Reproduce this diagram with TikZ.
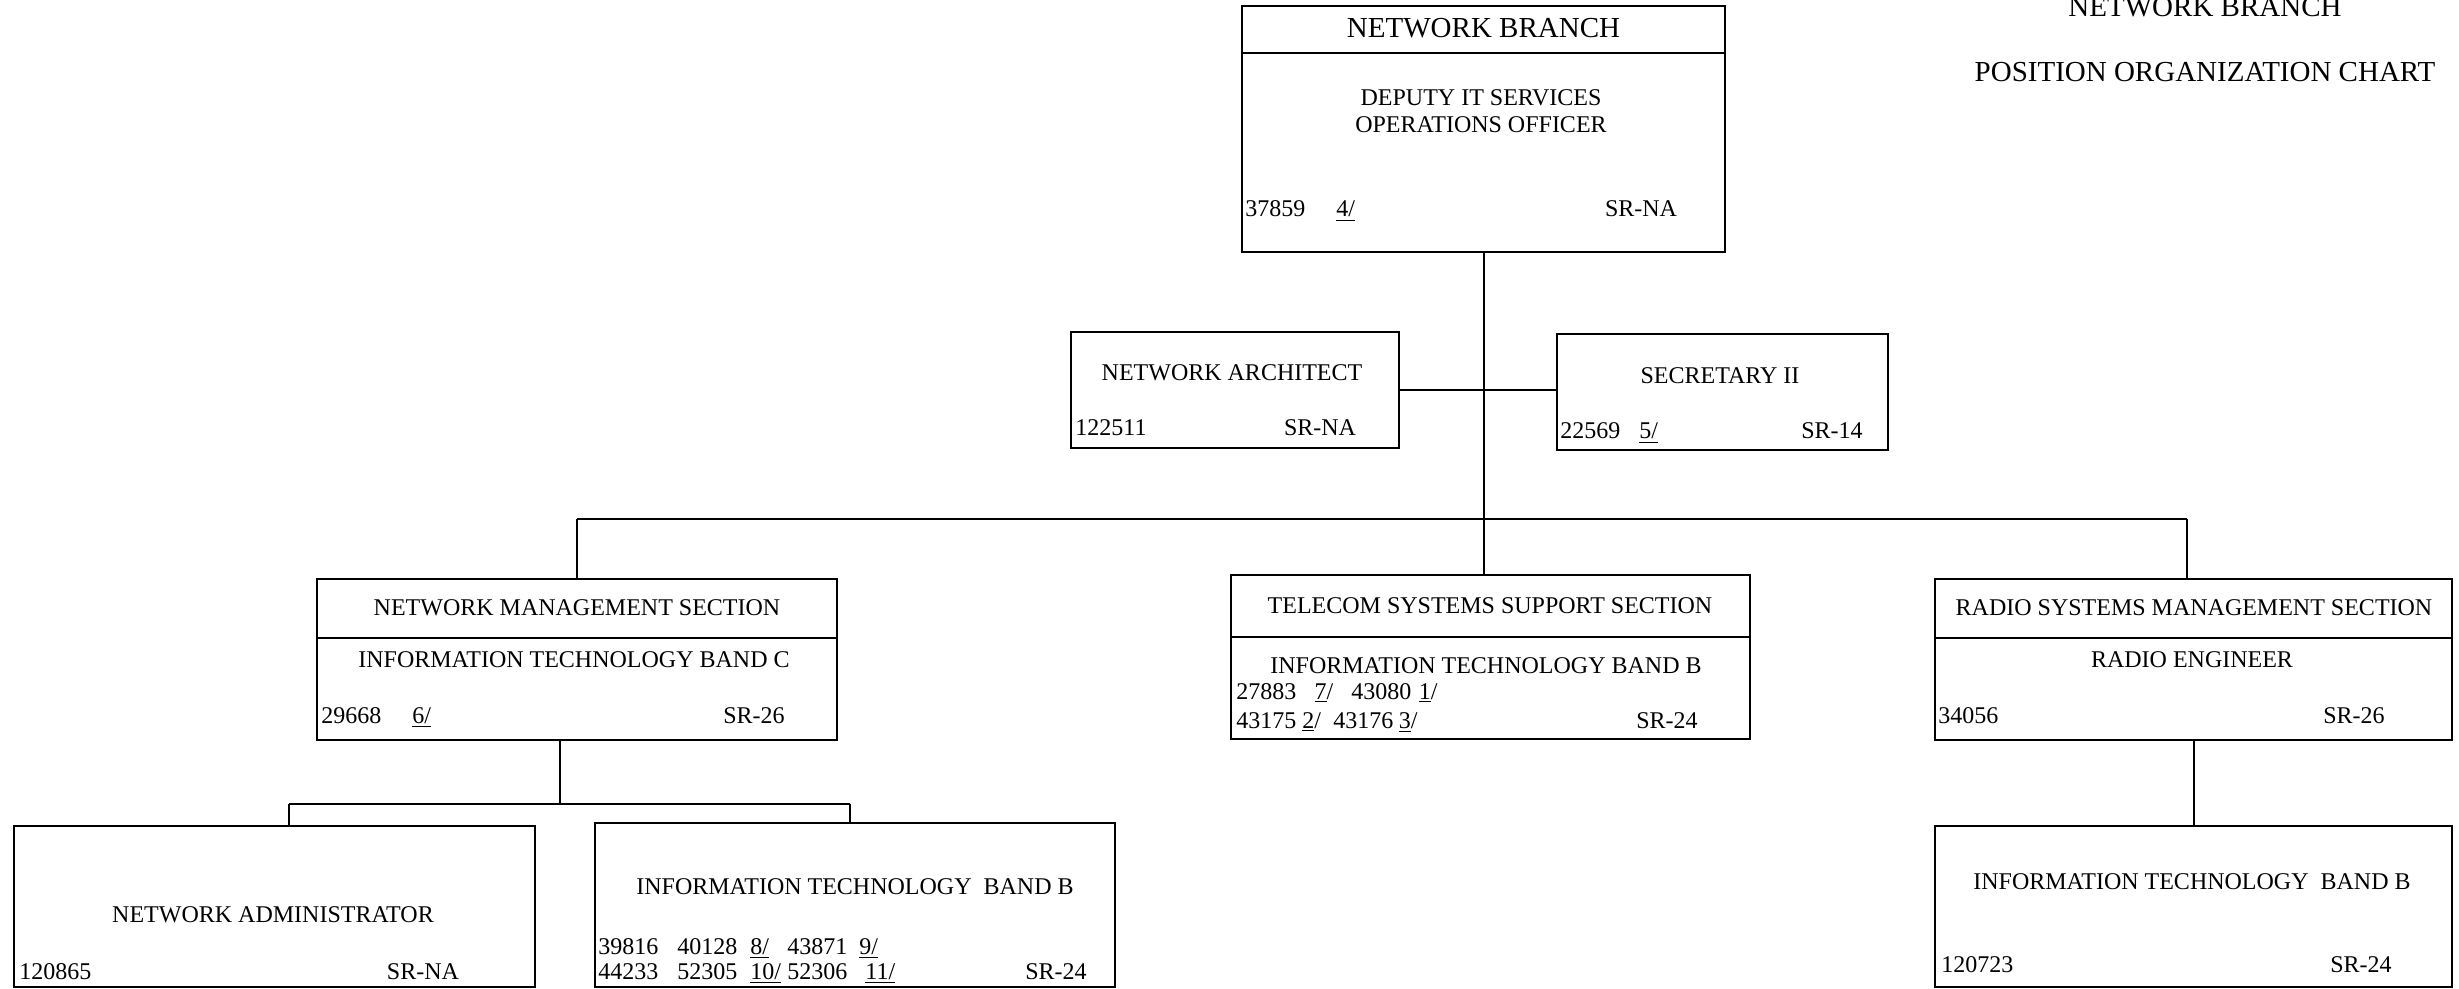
\documentclass[tikz,border=0pt]{standalone}
\usepackage{fontspec}
\setmainfont{Liberation Serif}
\begin{document}
\begin{tikzpicture}[x=0.5pt,y=-0.5pt,
  box/.style={draw, line width=1pt, inner sep=0pt, rectangle},
  txt/.style={inner sep=0pt, font=\fontsize{12}{14}\selectfont},
  ttl/.style={inner sep=0pt, font=\fontsize{14.5}{16}\selectfont},
  conn/.style={draw, line width=1pt},
  dv/.style={draw, line width=1pt}]
\useasboundingbox (0,0) rectangle (2459,989);

% ---- boxes ----
\node[box, minimum width=241.5pt, minimum height=123pt] (top) at (1483.5,129) {};
\node[box, minimum width=164pt, minimum height=58pt] (arch) at (1235,390) {};
\node[box, minimum width=165.5pt, minimum height=58pt] (sec) at (1722.5,392) {};
\node[box, minimum width=260pt, minimum height=80.5pt] (nms) at (577,659.5) {};
\node[box, minimum width=259.5pt, minimum height=82pt] (tss) at (1490.5,657) {};
\node[box, minimum width=258.5pt, minimum height=80.5pt] (rsms) at (2193.5,659.5) {};
\node[box, minimum width=260.5pt, minimum height=80.5pt] (adm) at (274.5,906.5) {};
\node[box, minimum width=260pt, minimum height=82pt] (itbl) at (855,905) {};
\node[box, minimum width=258.5pt, minimum height=80.5pt] (itbr) at (2193.5,906.5) {};

% ---- dividers ----
\draw[dv] (top.west |- 0,53) -- (top.east |- 0,53);
\draw[dv] (nms.west |- 0,638) -- (nms.east |- 0,638);
\draw[dv] (tss.west |- 0,637) -- (tss.east |- 0,637);
\draw[dv] (rsms.west |- 0,638) -- (rsms.east |- 0,638);

% ---- connectors ----
\coordinate (busL) at (577,519);
\coordinate (busR) at (2187,519);
\coordinate (sub) at (560,804);
\coordinate (subL) at (289,804);
\coordinate (subR) at (850,804);
\draw[conn] (top.south) -- (top.south |- tss.north);
\draw[conn] (arch.east) -- (arch.east -| sec.west);
\draw[conn] (busL) -- (busR);
\draw[conn] (busL) -- (nms.north);
\draw[conn] (busR) -- (busR |- rsms.north);
\draw[conn] (sub |- nms.south) -- (sub);
\draw[conn] (subL) -- (subR);
\draw[conn] (subL) -- (subL |- adm.north);
\draw[conn] (subR) -- (subR |- itbl.north);
\draw[conn] (rsms.south) -- (rsms.south |- itbr.north);

% ---- top-right title ----
\node[ttl, anchor=base] (t1) at (2205,17) {NETWORK BRANCH};
\node[ttl, anchor=base] (t2) at (2205,82) {POSITION ORGANIZATION CHART};

% ---- top box text ----
\node[ttl, anchor=base] (topT) at (1483.5,38) {NETWORK BRANCH};
\node[txt, anchor=base] (topA) at (1481,106) {DEPUTY IT SERVICES};
\node[txt, anchor=base] (topB) at (1481,133) {OPERATIONS OFFICER};
\node[txt, anchor=base west] (topN) at (1245,217) {37859};
\node[txt, anchor=base west] (topF) at (1336,217) {\underline{4/}};
\node[txt, anchor=base] (topG) at (1641,217) {SR-NA};

% ---- architect ----
\node[txt, anchor=base] (archT) at (1232,381) {NETWORK ARCHITECT};
\node[txt, anchor=base west] (archN) at (1075,436) {122511};
\node[txt, anchor=base] (archG) at (1320,436) {SR-NA};

% ---- secretary ----
\node[txt, anchor=base] (secT) at (1720,384) {SECRETARY II};
\node[txt, anchor=base west] (secN) at (1560,439) {22569};
\node[txt, anchor=base west] (secF) at (1639,439) {\underline{5/}};
\node[txt, anchor=base] (secG) at (1832,439) {SR-14};

% ---- network management section ----
\node[txt, anchor=base] (nmsT) at (577,616) {NETWORK MANAGEMENT SECTION};
\node[txt, anchor=base] (nmsA) at (574,668) {INFORMATION TECHNOLOGY BAND C};
\node[txt, anchor=base west] (nmsN) at (321,723) {29668};
\node[txt, anchor=base west] (nmsF) at (412,723) {\underline{6/}};
\node[txt, anchor=base] (nmsG) at (754,723) {SR-26};

% ---- telecom systems support section ----
\node[txt, anchor=base] (tssT) at (1490,613) {TELECOM SYSTEMS SUPPORT SECTION};
\node[txt, anchor=base] (tssA) at (1486,673) {INFORMATION TECHNOLOGY BAND B};
\node[txt, anchor=base west] (tssL1) at (1236,699)
  {\makebox[39.1pt][l]{27883}\makebox[18.4pt][l]{\underline{7}/}\makebox[33.75pt][l]{43080}\underline{1}/};
\node[txt, anchor=base west] (tssL2) at (1236,728)
  {\makebox[33pt][l]{43175}\makebox[15.5pt][l]{\underline{2}/}\makebox[32.7pt][l]{43176}\underline{3}/};
\node[txt, anchor=base] (tssG) at (1667,728) {SR-24};

% ---- radio systems management section ----
\node[txt, anchor=base] (rsmsT) at (2194,616) {RADIO SYSTEMS MANAGEMENT SECTION};
\node[txt, anchor=base] (rsmsA) at (2192,668) {RADIO ENGINEER};
\node[txt, anchor=base west] (rsmsN) at (1938,723) {34056};
\node[txt, anchor=base] (rsmsG) at (2354,723) {SR-26};

% ---- network administrator ----
\node[txt, anchor=base] (admT) at (273,922) {NETWORK ADMINISTRATOR};
\node[txt, anchor=base west] (admN) at (19,979) {120865};
\node[txt, anchor=base] (admG) at (423,979) {SR-NA};

% ---- IT band B (left) ----
\node[txt, anchor=base] (itblT) at (855,894) {INFORMATION TECHNOLOGY\ \ BAND B};
\node[txt, anchor=base west] (itblL1) at (598,954)
  {\makebox[39.5pt][l]{39816}\makebox[36.5pt][l]{40128}\makebox[18.5pt][l]{\underline{8/}}\makebox[36pt][l]{43871}\underline{9/}};
\node[txt, anchor=base west] (itblL2) at (598,979)
  {\makebox[39.5pt][l]{44233}\makebox[36.5pt][l]{52305}\makebox[18.5pt][l]{\underline{10/}}\makebox[39pt][l]{52306}\underline{11/}};
\node[txt, anchor=base] (itblG) at (1056,979) {SR-24};

% ---- IT band B (right) ----
\node[txt, anchor=base] (itbrT) at (2192,889) {INFORMATION TECHNOLOGY\ \ BAND B};
\node[txt, anchor=base west] (itbrN) at (1941,972) {120723};
\node[txt, anchor=base] (itbrG) at (2361,972) {SR-24};
\end{tikzpicture}
\end{document}
